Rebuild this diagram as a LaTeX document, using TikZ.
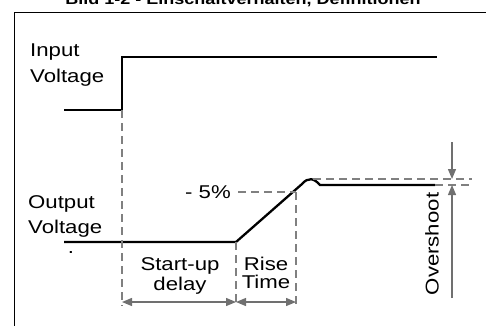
\documentclass[tikz,border=0pt]{standalone}
\usepackage{fontspec}
\setmainfont[FakeStretch=1.2]{Liberation Sans}
\usetikzlibrary{arrows.meta}
\definecolor{guidegray}{RGB}{128,128,128}
\definecolor{arrowgray}{RGB}{112,112,112}
\tikzset{
  signal/.style={line width=2.3pt},
  guide/.style={guidegray, line width=1.3pt, dash pattern=on 8pt off 5pt},
  measure/.style={arrowgray, line width=1.3pt, arrows={Triangle[length=10pt,width=8pt]-Triangle[length=10pt,width=8pt]}},
  label/.style={inner sep=0pt, font=\fontsize{18.5}{25}\selectfont}
}
\begin{document}
\begin{tikzpicture}[x=1pt, y=-1pt]
\useasboundingbox (0,0) rectangle (486,325);
\node (title) [inner sep=0pt, anchor=base, font=\bfseries\fontsize{15}{18}\selectfont] at (243,4) {Bild 1-2 - Einschaltverhalten, Definitionen};
\draw [line width=1pt] (14,330) -- (14,12) -- (490,12);
% input voltage
\coordinate (in0) at (64,110);
\coordinate (in1) at (122,110);
\coordinate (in2) at (122,57);
\coordinate (in3) at (437,57);
\draw [signal] (in0) -- (in1) -- (in2) -- (in3);
\node (inlabel) [label, anchor=base west, align=left, font=\fontsize{18.5}{26}\selectfont] at (30,82) {Input\\Voltage};
% output voltage
\coordinate (out0) at (64,242);
\coordinate (out1) at (236,242);
\coordinate (out2) at (302,184);
\coordinate (out3) at (320,185);
\coordinate (out4) at (435,185);
\draw [signal] (out0) -- (out1) -- (out2) .. controls (308,177) and (314,178) .. (out3) -- (out4);
\node (outlabel) [label, anchor=base west, align=left] at (28,233) {Output\\Voltage};
\node (dot) [label, anchor=base] at (71,253) {.};
% guides
\coordinate (lvl) at (238,192);
\coordinate (rise) at (296,192);
\coordinate (peak) at (313,179);
\coordinate (peakend) at (472,179);
\coordinate (finalend) at (472,185);
\coordinate (g0) at (122,306);
\coordinate (g1) at (236,306);
\coordinate (g2) at (296,306);
\draw [guide] (in1) -- (g0);
\draw [guide] (out1) -- (g1);
\draw [guide] (rise) -- (g2);
\draw [guide] (lvl) -- (rise);
\draw [guide] (peak) -- (peakend);
\draw [guide] (out4) -- (finalend);
\node (pct) [label, anchor=base] at (208,198) {- 5\%};
% measures
\coordinate (m0) at (122,302);
\coordinate (m1) at (236,302);
\coordinate (m2) at (296,302);
\draw [measure] (m0) -- (m1);
\draw [measure] (m1) -- (m2);
\node (delay) [label, anchor=base, align=center, font=\fontsize{18.5}{20}\selectfont] at (180,290) {Start-up\\delay};
\node (risetime) [label, anchor=base, align=center, font=\fontsize{18.5}{18}\selectfont] at (266,288) {Rise\\Time};
\coordinate (os0) at (452,142);
\coordinate (os1) at (452,179);
\coordinate (os2) at (452,298);
\coordinate (os3) at (452,185);
\draw [measure, arrows={-Triangle[length=10pt,width=8pt]}] (os0) -- (os1);
\draw [measure, arrows={-Triangle[length=10pt,width=8pt]}] (os2) -- (os3);
\node (overshoot) [label, rotate=90] at (432,244) {Overshoot};
\end{tikzpicture}
\end{document}
